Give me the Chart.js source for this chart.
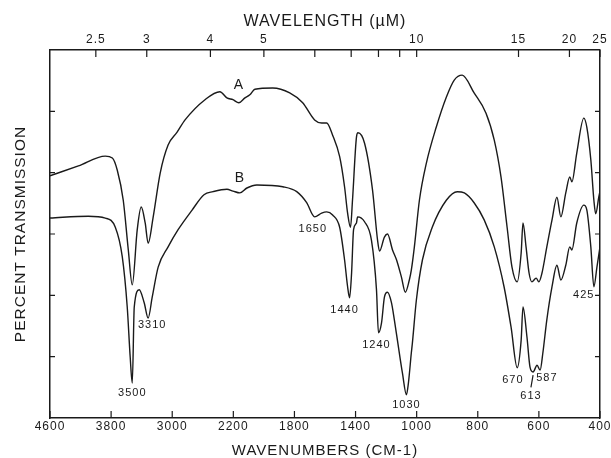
<!DOCTYPE html>
<html>
<head>
<meta charset="utf-8">
<script src="https://cdn.jsdelivr.net/npm/chart.js@4.4.1/dist/chart.umd.min.js"></script>
<style>
  html, body { margin: 0; padding: 0; background: #fff; }
  #wrap { width: 611px; height: 458px; }
</style>
</head>
<body>
<div id="wrap"><canvas id="c" width="611" height="458"></canvas></div>
<script>
// ---- data ----
const BOTTOM_TICKS = [4600, 3800, 3000, 2200, 1800, 1400, 1000, 800, 600, 400];
const TOP_WAVELENGTHS = [2.5, 3, 4, 5, 6, 7, 8, 9, 10, 15, 20, 25];
const TOP_LABELS = ['2.5', '3', '4', '5', '', '', '', '', '10', '15', '20', '25'];

const WN_A = [4600, 4228, 3876, 3784, 3719, 3641, 3575, 3523, 3458, 3406, 3354, 3315, 3249, 3158, 3054, 2936, 2832, 2571, 2375, 2284, 2205, 2164, 2124, 2092, 2059, 1942, 1831, 1746, 1668, 1622, 1589, 1550, 1504, 1472, 1452, 1433, 1420, 1394, 1384, 1341, 1289, 1256, 1243, 1211, 1191, 1158, 1132, 1100, 1074, 1048, 1035, 1015, 991, 968, 936, 903, 877, 851, 812, 773, 746, 724, 704, 688, 671, 658, 652, 642, 632, 623, 609, 600, 590, 574, 557, 541, 528, 512, 499, 492, 476, 453, 443, 430, 420, 414, 404, 400];
const T_A = [39.5, 41.1, 42.7, 42.4, 40.4, 35.5, 27.4, 21.7, 30.7, 34.4, 31.8, 28.5, 32.8, 39.9, 44.5, 46.6, 48.6, 51.9, 53.2, 52.2, 51.9, 51.4, 52.2, 52.7, 53.6, 53.8, 53.0, 51.4, 48.6, 48.1, 48.1, 46.1, 42.6, 37.7, 33.4, 31.1, 35.5, 45.8, 46.5, 44.8, 37.2, 29.0, 27.2, 29.5, 30.0, 27.4, 25.8, 23.0, 20.5, 22.5, 24.1, 27.9, 35.5, 41.6, 47.4, 52.3, 55.1, 55.9, 53.0, 49.7, 45.3, 39.3, 31.1, 24.6, 22.2, 26.9, 31.8, 27.9, 23.6, 22.2, 22.8, 22.2, 23.6, 27.9, 32.3, 36.0, 32.8, 36.7, 39.3, 38.5, 43.2, 48.9, 47.4, 42.1, 35.5, 33.3, 36.0, 37.0];

const WN_B = [4600, 4098, 3876, 3745, 3654, 3589, 3550, 3523, 3497, 3432, 3367, 3315, 3262, 3184, 3054, 2923, 2740, 2584, 2466, 2284, 2205, 2157, 2111, 2046, 1876, 1785, 1720, 1668, 1622, 1589, 1550, 1504, 1472, 1452, 1439, 1426, 1413, 1394, 1387, 1341, 1296, 1263, 1250, 1230, 1211, 1191, 1165, 1146, 1126, 1093, 1067, 1054, 1035, 1028, 1002, 981, 949, 903, 867, 844, 812, 779, 746, 714, 691, 671, 658, 652, 639, 629, 619, 606, 596, 587, 574, 557, 541, 528, 512, 499, 492, 476, 453, 443, 430, 420, 410, 400];
const T_B = [32.6, 32.9, 32.6, 31.1, 26.3, 18.1, 9.9, 5.7, 18.1, 20.9, 18.8, 16.3, 19.7, 24.6, 27.9, 30.7, 33.9, 36.4, 36.9, 37.3, 37.0, 36.7, 37.5, 38.0, 37.7, 36.9, 35.1, 32.8, 33.4, 33.6, 33.1, 31.1, 25.8, 21.4, 19.6, 23.6, 30.7, 31.8, 32.8, 32.0, 29.0, 20.9, 13.9, 15.5, 19.7, 20.5, 18.8, 16.0, 12.7, 7.3, 3.8, 5.7, 10.6, 12.2, 19.2, 25.8, 31.1, 35.5, 36.9, 36.7, 35.1, 32.3, 27.9, 21.4, 14.8, 8.2, 12.7, 18.1, 13.2, 8.3, 7.5, 8.6, 7.8, 10.6, 16.0, 21.4, 24.9, 22.5, 24.9, 27.9, 27.4, 31.8, 34.7, 33.9, 27.9, 21.4, 24.6, 27.9];

// annotations: text and the data point where it sits
const NOTE_TEXT = ['A', 'B', '3500', '3310', '1650', '1440', '1240', '1030', '670', '587', '613', '425'];
const NOTE_WN   = [2164, 2157, 3523, 3262, 1680, 1472, 1263, 1067, 685, 574, 626, 453];
const NOTE_T    = [54.3, 39.1, 4.1, 15.2, 30.8, 17.6, 11.9, 2.1, 6.2, 6.5, 3.6, 20.1];
const LEADER_WN = [626, 619];
const LEADER_T  = [5.0, 7.0];

// ---- styling ----
const INK = '#1a1a1a';
const FAM = '"Liberation Sans", Arial, Helvetica, sans-serif';

// piecewise wavenumber axis (scale changes at 2200 and 1000 cm-1)
function wnToU(w) {
  if (w >= 2200) return (4600 - w) / 800;
  if (w >= 1000) return 3 + (2200 - w) / 400;
  return 6 + (1000 - w) / 200;
}
function uToWn(u) {
  if (u <= 3) return 4600 - 800 * u;
  if (u <= 6) return 2200 - 400 * (u - 3);
  return 1000 - 200 * (u - 6);
}
class IRScale extends Chart.LinearScale {
  getPixelForValue(v) { return this.getPixelForDecimal(wnToU(v) / 9); }
  getValueForPixel(p) { return uToWn(this.getDecimalForPixel(p) * 9); }
}
IRScale.id = 'irscale';
IRScale.defaults = Chart.LinearScale.defaults;
Chart.register(IRScale);

const decor = {
  id: 'decor',
  beforeDraw(chart) { chart.ctx.letterSpacing = '1px'; },
  afterDraw(chart) {
    const ctx = chart.ctx;
    const { x, x2, y } = chart.scales;
    const a = chart.chartArea;
    ctx.save();
    ctx.strokeStyle = INK;
    ctx.lineWidth = 1.2;
    ctx.beginPath();
    x.ticks.forEach((t, i) => { const p = x.getPixelForTick(i); ctx.moveTo(p, a.bottom); ctx.lineTo(p, a.bottom - 7); });
    x2.ticks.forEach((t, i) => { const p = x2.getPixelForTick(i); ctx.moveTo(p, a.top); ctx.lineTo(p, a.top + 7); });
    y.ticks.forEach((t, i) => {
      if (t.value <= y.min || t.value >= y.max) return;
      const p = y.getPixelForTick(i);
      ctx.moveTo(a.left, p); ctx.lineTo(a.left + 5, p);
      ctx.moveTo(a.right, p); ctx.lineTo(a.right - 5, p);
    });
    // leader line for 613
    ctx.moveTo(x.getPixelForValue(LEADER_WN[0]), y.getPixelForValue(LEADER_T[0]));
    ctx.lineTo(x.getPixelForValue(LEADER_WN[1]), y.getPixelForValue(LEADER_T[1]));
    ctx.stroke();
    ctx.fillStyle = INK;
    ctx.textAlign = 'center';
    ctx.textBaseline = 'middle';
    ctx.letterSpacing = '1px';
    NOTE_TEXT.forEach((s, i) => {
      ctx.font = (s === 'A' || s === 'B') ? `14px ${FAM}` : `11px ${FAM}`;
      ctx.fillText(s, x.getPixelForValue(NOTE_WN[i]), y.getPixelForValue(NOTE_T[i]));
    });
    ctx.restore();
  }
};

const lineDs = (label, wn, t) => ({
  label,
  data: wn.map((w, i) => ({ x: w, y: t[i] })),
  borderColor: INK,
  borderWidth: 1.4,
  pointRadius: 0,
  fill: false,
  cubicInterpolationMode: 'monotone',
  xAxisID: 'x',
  yAxisID: 'y'
});

new Chart(document.getElementById('c'), {
  type: 'line',
  data: { datasets: [lineDs('A', WN_A, T_A), lineDs('B', WN_B, T_B)] },
  plugins: [decor],
  options: {
    responsive: false,
    animation: false,
    events: [],
    layout: { padding: 0 },
    plugins: { legend: { display: false }, tooltip: { enabled: false } },
    scales: {
      x: {
        type: 'irscale', position: 'bottom', min: 400, max: 4600,
        afterFit: s => { s.height = 40; },
        afterBuildTicks: s => { s.ticks = BOTTOM_TICKS.map(v => ({ value: v })); },
        grid: { display: true, drawOnChartArea: false, drawTicks: false },
        border: { display: true, color: INK, width: 1.5 },
        ticks: { autoSkip: false, maxRotation: 0, minRotation: 0, padding: 1, color: INK,
                 font: { size: 12, family: FAM }, callback: v => String(v) },
        title: { display: true, text: 'WAVENUMBERS (CM-1)', color: INK,
                 font: { size: 15, family: FAM, lineHeight: 1 }, padding: { top: 0, bottom: 0 } }
      },
      x2: {
        type: 'irscale', position: 'top', min: 400, max: 4600,
        afterFit: s => { s.height = 50; },
        afterBuildTicks: s => { s.ticks = TOP_WAVELENGTHS.map(l => ({ value: 10000 / l })); },
        grid: { display: true, drawOnChartArea: false, drawTicks: false },
        border: { display: true, color: INK, width: 1.5 },
        ticks: { autoSkip: false, maxRotation: 0, minRotation: 0, padding: 3, color: INK,
                 font: { size: 12, family: FAM }, callback: (v, i) => TOP_LABELS[i] },
        title: { display: true, text: 'WAVELENGTH (\u00B5M)', color: INK,
                 font: { size: 16, family: FAM, lineHeight: 1 }, padding: { top: 14, bottom: 0 } }
      },
      y: {
        type: 'linear', position: 'left', min: 0, max: 60,
        afterFit: s => { s.width = 50; },
        grid: { display: true, drawOnChartArea: false, drawTicks: false },
        border: { display: true, color: INK, width: 1.5 },
        ticks: { display: false, stepSize: 10 },
        title: { display: true, text: 'PERCENT TRANSMISSION', color: INK,
                 font: { size: 15.5, family: FAM, lineHeight: 1 }, padding: { top: 12.5, bottom: 0 } }
      },
      y2: {
        type: 'linear', position: 'right', min: 0, max: 60,
        afterFit: s => { s.width = 10; },
        grid: { display: true, drawOnChartArea: false, drawTicks: false },
        border: { display: true, color: INK, width: 1.5 },
        ticks: { display: false, stepSize: 10 }
      }
    }
  }
});
</script>
</body>
</html>
